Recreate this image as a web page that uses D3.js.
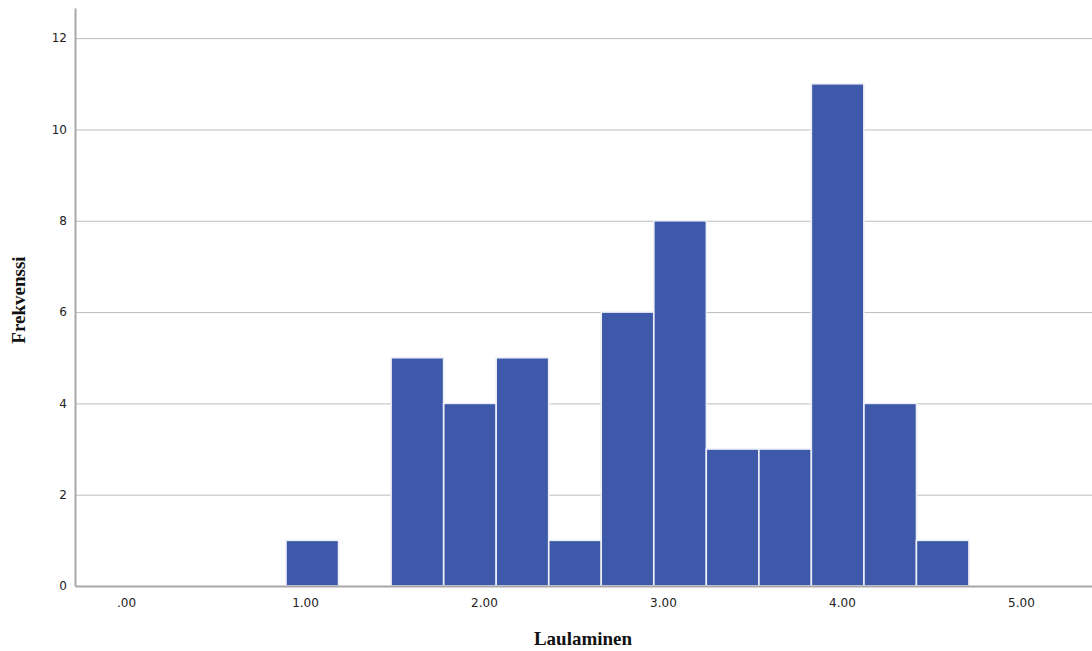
<!DOCTYPE html>
<html><head><meta charset="utf-8">
<script src="https://cdn.jsdelivr.net/npm/d3@7"></script>
<style>body{margin:0;background:#fff}svg{display:block}</style>
</head><body>
<svg id="c" width="1092" height="651"></svg>
<script>
const binStarts = [0.894, 1.188, 1.481, 1.775, 2.068, 2.362, 2.655, 2.949, 3.242, 3.536, 3.829, 4.123, 4.416];
const binWidth = 0.2935;
const counts = [1, 0, 5, 4, 5, 1, 6, 8, 3, 3, 11, 4, 1];
const xTicks = [0, 1, 2, 3, 4, 5];
const yTicks = [0, 2, 4, 6, 8, 10, 12];
const xTitle = "Laulaminen";
const yTitle = "Frekvenssi";

(function () {
const svg = d3.select("#c");
const mL = 75, mR = 1092, mT = 8, mB = 586;
const x = d3.scaleLinear().domain([-0.285, 5.397]).range([mL, mR]);
const y = d3.scaleLinear().domain([0, 12.66]).range([mB, mT]);

// gridlines
svg.append("g").selectAll("line").data(yTicks.filter(d => d > 0)).join("line")
  .attr("x1", mL).attr("x2", mR)
  .attr("y1", d => y(d) + 0.5).attr("y2", d => y(d) + 0.5)
  .attr("stroke", "#bdbdbd").attr("stroke-width", 1);

// bars
svg.append("g").selectAll("rect").data(counts.map((c, i) => ({c, s: binStarts[i]})).filter(d => d.c > 0)).join("rect")
  .attr("x", d => x(d.s))
  .attr("width", d => x(d.s + binWidth) - x(d.s))
  .attr("y", d => y(d.c))
  .attr("height", d => y(0) - y(d.c))
  .attr("fill", "#3e59a9")
  .attr("stroke", "#eef0f8").attr("stroke-width", 1.6);

// axes
const yAxis = d3.axisLeft(y).tickValues(yTicks).tickSize(0).tickPadding(8).tickFormat(d3.format("d"));
const gy = svg.append("g").attr("transform", `translate(${mL},0)`).call(yAxis);
gy.select(".domain").attr("stroke", "#a8a8a8").attr("stroke-width", 2);
gy.selectAll("text").attr("font-family", "DejaVu Sans").attr("font-size", 12).attr("fill", "#222");

const xAxis = d3.axisBottom(x).tickValues(xTicks).tickSize(0).tickPadding(12)
  .tickFormat(d => d === 0 ? ".00" : d3.format(".2f")(d));
const gx = svg.append("g").attr("transform", `translate(0,${mB})`).call(xAxis);
gx.select(".domain").attr("stroke", "#a8a8a8").attr("stroke-width", 2);
gx.selectAll("text").attr("font-family", "DejaVu Sans").attr("font-size", 12).attr("fill", "#222");

svg.append("text").attr("x", 583).attr("y", 645).attr("text-anchor", "middle")
  .attr("font-family", "Liberation Serif").attr("font-weight", "bold").attr("font-size", 19)
  .attr("fill", "#111").text(xTitle);
svg.append("text").attr("transform", "translate(25,300) rotate(-90)").attr("text-anchor", "middle")
  .attr("font-family", "Liberation Serif").attr("font-weight", "bold").attr("font-size", 19)
  .attr("fill", "#111").text(yTitle);
})();
</script>
</body></html>
